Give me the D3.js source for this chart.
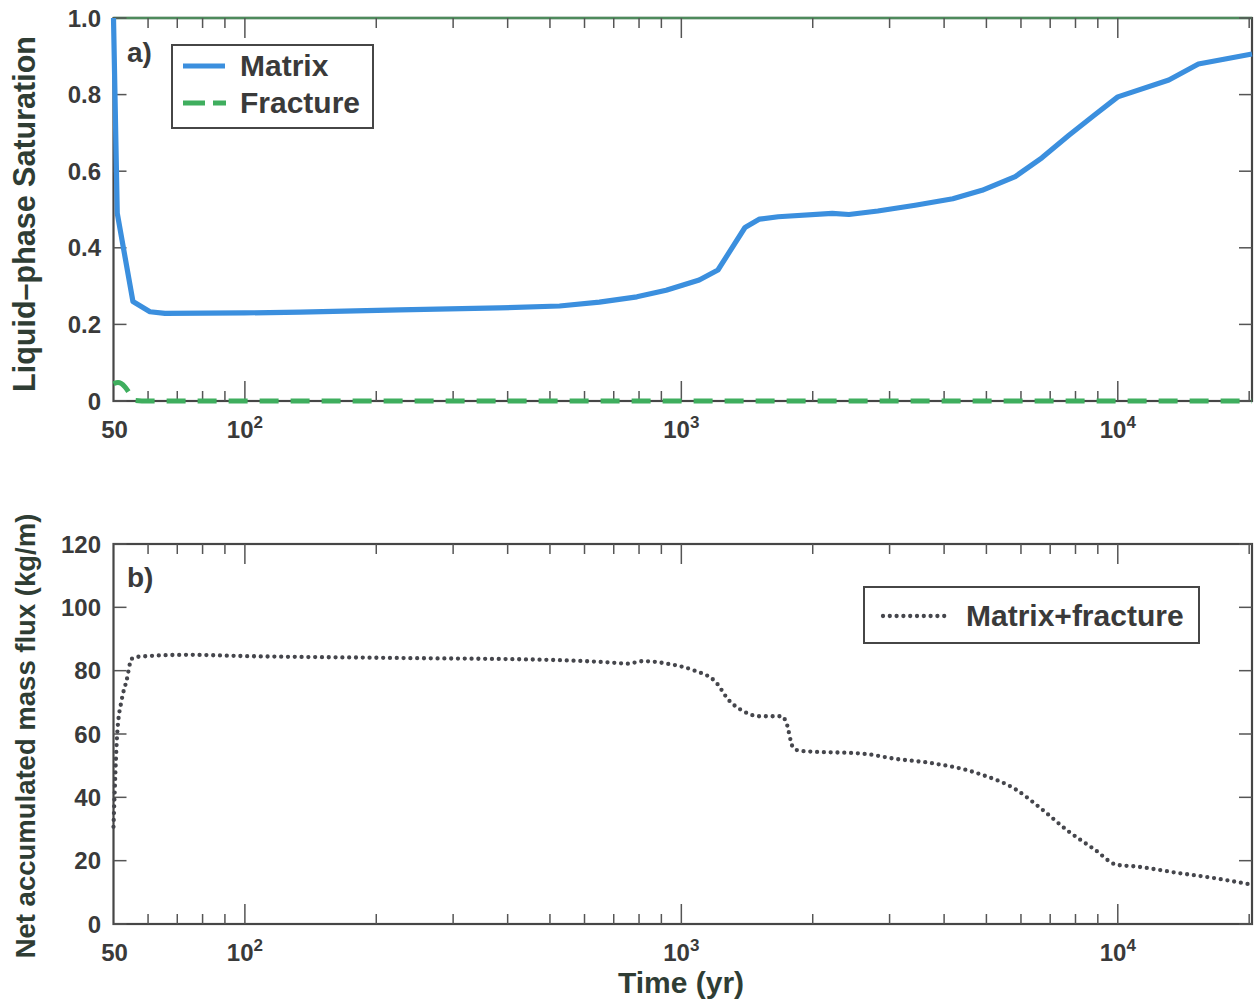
<!DOCTYPE html>
<html><head><meta charset="utf-8">
<script src="https://cdn.jsdelivr.net/npm/d3@7"></script>
<style>
body{margin:0;background:#fff}
svg{display:block}
text{font-family:"Liberation Sans",Arial,Helvetica,sans-serif;font-weight:bold}
</style>
</head><body>
<svg id="c" width="1254" height="1000"></svg>
<script>
// ---------- data ----------
const timeMatrix = [50, 51.0, 55.4, 60.6, 65.6, 100, 134, 226, 383, 526, 649, 791, 923, 1099, 1213, 1399, 1511, 1667, 2217, 2421, 2820, 3434, 4188, 4886, 5821, 6700, 7727, 8800, 10000, 13090, 15300, 20300];
const satMatrix  = [1.0, 0.49, 0.26, 0.233, 0.229, 0.230, 0.232, 0.238, 0.243, 0.248, 0.258, 0.272, 0.289, 0.316, 0.342, 0.453, 0.475, 0.481, 0.490, 0.487, 0.496, 0.511, 0.528, 0.550, 0.586, 0.635, 0.694, 0.745, 0.794, 0.838, 0.880, 0.906];

const timeFracture = [50, 51.2, 53.1, 54.4, 55.6, 60, 100, 1000, 10000, 20300];
const satFracture  = [0.045, 0.048, 0.037, 0.020, 0.002, 0, 0, 0, 0, 0];

const timeFlux = [50, 51, 52.2, 53.6, 55, 57, 73.6, 100, 226, 499, 531, 700, 753, 817, 928, 1067, 1199, 1286, 1378, 1513, 1699, 1739, 1802, 1866, 2641, 3111, 3661, 4843, 5834, 6703, 7702, 8854, 9945, 10920, 13770, 16600, 20300];
const fluxTotal = [30.7, 60.3, 70.7, 77, 83.7, 84.4, 85.0, 84.6, 84.0, 83.4, 83.3, 82.5, 82.2, 83.0, 82.2, 80.1, 76.4, 70.6, 67.4, 65.6, 65.6, 63.7, 55.8, 54.7, 53.7, 52.1, 51.0, 47.3, 42.5, 36.2, 29.3, 23.5, 18.7, 18.2, 16.1, 14.5, 12.4];

const xDomain = [50, 20300];
const xTickValues = [50, 100, 1000, 10000];
const xTickBase = ["50", "10", "10", "10"];
const xTickExp  = ["", "2", "3", "4"];

const satTicks = [0, 0.2, 0.4, 0.6, 0.8, 1.0];
const satTickLabels = ["0", "0.2", "0.4", "0.6", "0.8", "1.0"];
const fluxTicks = [0, 20, 40, 60, 80, 100, 120];
const fluxTickLabels = ["0", "20", "40", "60", "80", "100", "120"];

const titleA = "Liquid\u2013phase Saturation";
const titleB = "Net accumulated mass flux (kg/m)";
const titleX = "Time (yr)";
const legendA = ["Matrix", "Fracture"];
const legendB = ["Matrix+fracture"];
const panelTags = ["a)", "b)"];

// ---------- styles ----------
const C = {
  frame: "#464646", tick: "#555", text: "#3a3a3a", title: "#2f3d34",
  blue: "#3b8fde", green: "#3fae5e", dots: "#45464c", topEdge: "#4e8a5c"
};

const svg = d3.select("#c");
const X0 = 113.5, X1 = 1252;
const x = d3.scaleLog().domain(xDomain).range([X0, X1]);

function isMajor(t){ const l = Math.log10(t); return Math.abs(l - Math.round(l)) < 1e-9; }

function panel(yScale, yTicks, yLabels, topColor) {
  const [yb, yt] = yScale.range();
  const g = svg.append("g");
  g.append("rect").attr("x", X0).attr("y", yt).attr("width", X1 - X0).attr("height", yb - yt)
    .attr("fill", "none").attr("stroke", C.frame).attr("stroke-width", 2.2);
  if (topColor) g.append("line").attr("x1", X0).attr("x2", X1).attr("y1", yt).attr("y2", yt)
    .attr("stroke", topColor).attr("stroke-width", 2.4);
  const xt = x.ticks().filter(t => t > xDomain[0] && t < xDomain[1] * 0.99);
  xt.forEach(t => {
    const len = isMajor(t) ? 20 : 10;
    const px = x(t);
    g.append("line").attr("x1", px).attr("x2", px).attr("y1", yb).attr("y2", yb - len)
      .attr("stroke", C.tick).attr("stroke-width", 1.5);
    g.append("line").attr("x1", px).attr("x2", px).attr("y1", yt).attr("y2", yt + len)
      .attr("stroke", C.tick).attr("stroke-width", 1.5);
  });
  yTicks.forEach((v, i) => {
    const py = yScale(v);
    g.append("line").attr("x1", X0).attr("x2", X0 + 13).attr("y1", py).attr("y2", py)
      .attr("stroke", C.tick).attr("stroke-width", 1.5);
    g.append("line").attr("x1", X1).attr("x2", X1 - 13).attr("y1", py).attr("y2", py)
      .attr("stroke", C.tick).attr("stroke-width", 1.5);
    g.append("text").attr("x", 101).attr("y", py).attr("dy", "0.36em")
      .attr("text-anchor", "end").attr("font-size", 24).attr("fill", C.text).text(yLabels[i]);
  });
  xTickValues.forEach((t, i) => {
    const tx = g.append("text").attr("x", x(t) + (xTickExp[i] ? 0 : 1)).attr("y", yb + 37)
      .attr("text-anchor", "middle").attr("font-size", 24).attr("fill", C.text);
    tx.append("tspan").text(xTickBase[i]);
    if (xTickExp[i]) tx.append("tspan").attr("font-size", 17).attr("dy", -10).text(xTickExp[i]);
  });
  return g;
}

// ---------- panel a ----------
const yA = d3.scaleLinear().domain([0, 1]).range([401, 18]);
panel(yA, satTicks, satTickLabels, C.topEdge);

svg.append("path").datum(timeFracture.map((t, i) => [t, satFracture[i]]))
  .attr("d", d3.line().x(d => x(d[0])).y(d => yA(d[1])).curve(d3.curveMonotoneX))
  .attr("fill", "none").attr("stroke", C.green).attr("stroke-width", 5)
  .attr("stroke-dasharray", "19,12");
svg.append("path").datum(timeMatrix.map((t, i) => [t, satMatrix[i]]))
  .attr("d", d3.line().x(d => x(d[0])).y(d => yA(d[1])))
  .attr("fill", "none").attr("stroke", C.blue).attr("stroke-width", 5.2)
  .attr("stroke-linejoin", "round");

svg.append("text").attr("x", 127).attr("y", 62).attr("font-size", 28).attr("fill", C.text).text(panelTags[0]);
svg.append("text").attr("transform", "translate(35,214) rotate(-90)").attr("text-anchor", "middle")
  .attr("font-size", 30.5).attr("fill", C.title).text(titleA);

svg.append("rect").attr("x", 172).attr("y", 45).attr("width", 201).attr("height", 83)
  .attr("fill", "#fff").attr("stroke", C.frame).attr("stroke-width", 2);
svg.append("line").attr("x1", 183).attr("x2", 225).attr("y1", 66).attr("y2", 66)
  .attr("stroke", C.blue).attr("stroke-width", 5);
svg.append("line").attr("x1", 183).attr("x2", 226).attr("y1", 103).attr("y2", 103)
  .attr("stroke", C.green).attr("stroke-width", 5).attr("stroke-dasharray", "22,8");
svg.append("text").attr("x", 240).attr("y", 76).attr("font-size", 30).attr("fill", C.text).text(legendA[0]);
svg.append("text").attr("x", 240).attr("y", 113).attr("font-size", 30).attr("fill", C.text).text(legendA[1]);

// ---------- panel b ----------
const yB = d3.scaleLinear().domain([0, 120]).range([924, 544]);
panel(yB, fluxTicks, fluxTickLabels, null);

svg.append("path").datum(timeFlux.map((t, i) => [t, fluxTotal[i]]))
  .attr("d", d3.line().x(d => x(d[0])).y(d => yB(d[1])).curve(d3.curveMonotoneX))
  .attr("fill", "none").attr("stroke", C.dots).attr("stroke-width", 4.3)
  .attr("stroke-linecap", "round").attr("stroke-dasharray", "0,6.8");

svg.append("text").attr("x", 127).attr("y", 587).attr("font-size", 28).attr("fill", C.text).text(panelTags[1]);
svg.append("text").attr("transform", "translate(35,736) rotate(-90)").attr("text-anchor", "middle")
  .attr("font-size", 27.5).attr("fill", C.title).text(titleB);
svg.append("text").attr("x", 681).attr("y", 993).attr("text-anchor", "middle")
  .attr("font-size", 30).attr("fill", C.title).text(titleX);

svg.append("rect").attr("x", 864).attr("y", 587).attr("width", 335).attr("height", 56)
  .attr("fill", "#fff").attr("stroke", C.frame).attr("stroke-width", 2);
svg.append("line").attr("x1", 883).attr("x2", 947).attr("y1", 616).attr("y2", 616)
  .attr("stroke", C.dots).attr("stroke-width", 4.3).attr("stroke-linecap", "round")
  .attr("stroke-dasharray", "0,6.8");
svg.append("text").attr("x", 966).attr("y", 626).attr("font-size", 30).attr("fill", C.text).text(legendB[0]);
</script>
</body></html>
